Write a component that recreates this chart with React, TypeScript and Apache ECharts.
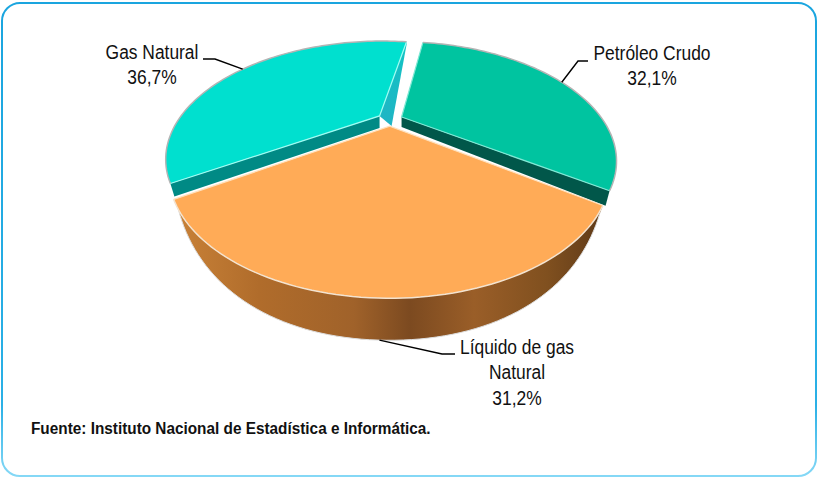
import React, { useEffect, useRef } from "react";
import * as echarts from "echarts";

const categories = ["Petróleo Crudo", "Líquido de gas\nNatural", "Gas Natural"];
const shares = [32.1, 31.2, 36.7];
const topColors = ["#00c4a0", "#ffab57", "#00e0cf"];
const paintOrder = [1, 3, 2];

const START_DEG = 9.5;
const CX = 390, CY = 119.5, R = 201, A = 104, K = 0.359, EXPLODE = 0.063;
const WALL = 42;

const labelBoxes = [
  { x: 652, y: 53, leader: [[588, 61], [578, 61]], at: 0.5 },
  { x: 517, y: 347, leader: [[455, 354], [442, 354]], at: 0.505 },
  { x: 152, y: 52, leader: [[203, 59], [215, 59]], at: 0.5 },
];

const FONT = '20px "Liberation Sans", Arial, sans-serif';
const LABEL_SQUEEZE = 0.87;

function project(u: number, v: number) {
  const s = 1 / (1 - K * v);
  return [CX + R * u * s, CY + A * v * s];
}

function App() {
  const ref = useRef<HTMLDivElement>(null);
  useEffect(() => {
    document.body.style.margin = "0";
    const chart = echarts.init(ref.current!, null, { renderer: "svg" });
    const total = shares.reduce((a, b) => a + b, 0);
    const starts: number[] = [];
    let acc = START_DEG;
    shares.forEach((s) => { starts.push(acc); acc += (s / total) * 360; });

    const renderItem = (_: any, api: any) => {
      const i = api.value(2) as number;
      const a0 = starts[i];
      const a1 = a0 + (api.value(0) / total) * 360;
      const mid = ((a0 + a1) / 2) * Math.PI / 180;
      const ou = Math.sin(mid) * EXPLODE, ov = -Math.cos(mid) * EXPLODE;
      const pt = (deg: number, r = 1) => {
        const t = deg * Math.PI / 180;
        return project(ou + r * Math.sin(t), ov - r * Math.cos(t));
      };
      const arc: number[][] = [];
      for (let d = a0; d < a1; d += 1.5) arc.push(pt(d));
      arc.push(pt(a1));
      const apex = pt(a0, 0);
      const z = paintOrder[i] * 10;
      const children: any[] = [];
      const poly = (points: number[][], fill: any, zz: number, stroke?: string, lw = 1) =>
        children.push({ type: "polygon", z2: z + zz, shape: { points }, style: { fill, stroke: stroke ?? "none", lineWidth: lw } });
      const line = (points: number[][], stroke: string, lw: number, zz: number) =>
        children.push({ type: "polyline", z2: z + zz, shape: { points }, style: { fill: "none", stroke, lineWidth: lw } });
      const off = (p: number[], dx: number, dy: number) => [p[0] + dx, p[1] + dy];
      const wallDrop = (deg: number) => {
        const v = -Math.cos(deg * Math.PI / 180);
        const f = Math.min(1, Math.max(0, (1 - v) / 0.5));
        return WALL * (1 - Math.pow(f, 1.3));
      };

      if (i === 0) {
        const e = pt(a1);
        poly([apex, e, off(e, -4, 15), off(apex, 0, 10)], "#01574a", 0);
      }
      if (i === 2) {
        const s = pt(a0), e = pt(a1);
        poly([apex, s, off(s, 4, 13), off(apex, 0, 12)], "#008a85", 0);
        poly([apex, e, off(e, 0, 3), off(apex, 12, 10)], new echarts.graphic.LinearGradient(0, 0, 0, 1, [
          { offset: 0, color: "#12c4c4" }, { offset: 1, color: "#20b4c4" },
        ]), 0);
      }
      if (i === 1) {
        const bottom: number[][] = [];
        arc.forEach((p, j) => {
          const d = a0 + ((a1 - a0) * j) / (arc.length - 1);
          bottom.push([CX + (p[0] - CX) * 0.985, p[1] + wallDrop(d)]);
        });
        poly([...arc, ...bottom.slice().reverse()], new echarts.graphic.LinearGradient(0, 0, 1, 0, [
          { offset: 0, color: "#c98238" },
          { offset: 0.2, color: "#b06c2b" },
          { offset: 0.42, color: "#a0622a" },
          { offset: 0.55, color: "#7c4a20" },
          { offset: 0.7, color: "#9a5e28" },
          { offset: 0.87, color: "#80501f" },
          { offset: 1, color: "#5f3a18" },
        ]), 0);
        line(bottom, "#dddddd", 1, 1);
      }
      poly([apex, ...arc], topColors[i], 2);
      line([arc[arc.length - 1], apex, arc[0]], i === 1 ? "#ffe0bc" : i === 0 ? "#7fe8d4" : "#9ffcf2", 1.2, 3);
      line(arc, i === 1 ? "#f3e3d0" : "#b4b4b4", 1.5, 3);

      const box = labelBoxes[i];
      const atDeg = a0 + (a1 - a0) * box.at;
      const anchor = i === 1 ? off(pt(atDeg), 0, wallDrop(atDeg)) : pt(atDeg);
      children.push({ type: "polyline", z2: 60, shape: { points: [...box.leader, anchor] }, style: { fill: "none", stroke: "#000", lineWidth: 1.4 } });
      const share = (api.value(0) as number).toFixed(1).replace(".", ",");
      children.push({
        type: "text", z2: 61,
        x: box.x, y: box.y - 12.5, scaleX: LABEL_SQUEEZE,
        style: {
          text: `${categories[i]}\n${share}%`, x: 0, y: 0,
          textAlign: "center", textVerticalAlign: "top", lineHeight: 25.3,
          font: FONT, fill: "#111",
        },
      });
      return { type: "group", children };
    };

    chart.setOption({
      animation: false,
      backgroundColor: "#fff",
      graphic: [
        { type: "rect", z: 0, shape: { x: 2, y: 3, width: 814, height: 473, r: 18 }, style: { fill: "#fff", lineWidth: 2, stroke: new echarts.graphic.LinearGradient(0, 0, 0, 1, [
          { offset: 0, color: "#1aa5df" }, { offset: 0.85, color: "#2ab0e6" }, { offset: 1, color: "#85d8f6" },
        ]) } },
        { type: "text", z: 5, x: 31, y: 420, scaleX: 0.93, style: { text: "Fuente: Instituto Nacional de Estadística e Informática.", x: 0, y: 0, font: 'bold 16.5px "Liberation Sans", Arial, sans-serif', fill: "#111" } },
      ],
      series: [{
        type: "custom",
        coordinateSystem: "none",
        silent: true,
        z: 3,
        renderItem,
        data: shares.map((s, i) => [s, categories[i], i]),
      }],
    });
    return () => chart.dispose();
  }, []);
  return <div ref={ref} style={{ position: "fixed", left: 0, top: 0, width: 818, height: 477 }} />;
}

export default App;
